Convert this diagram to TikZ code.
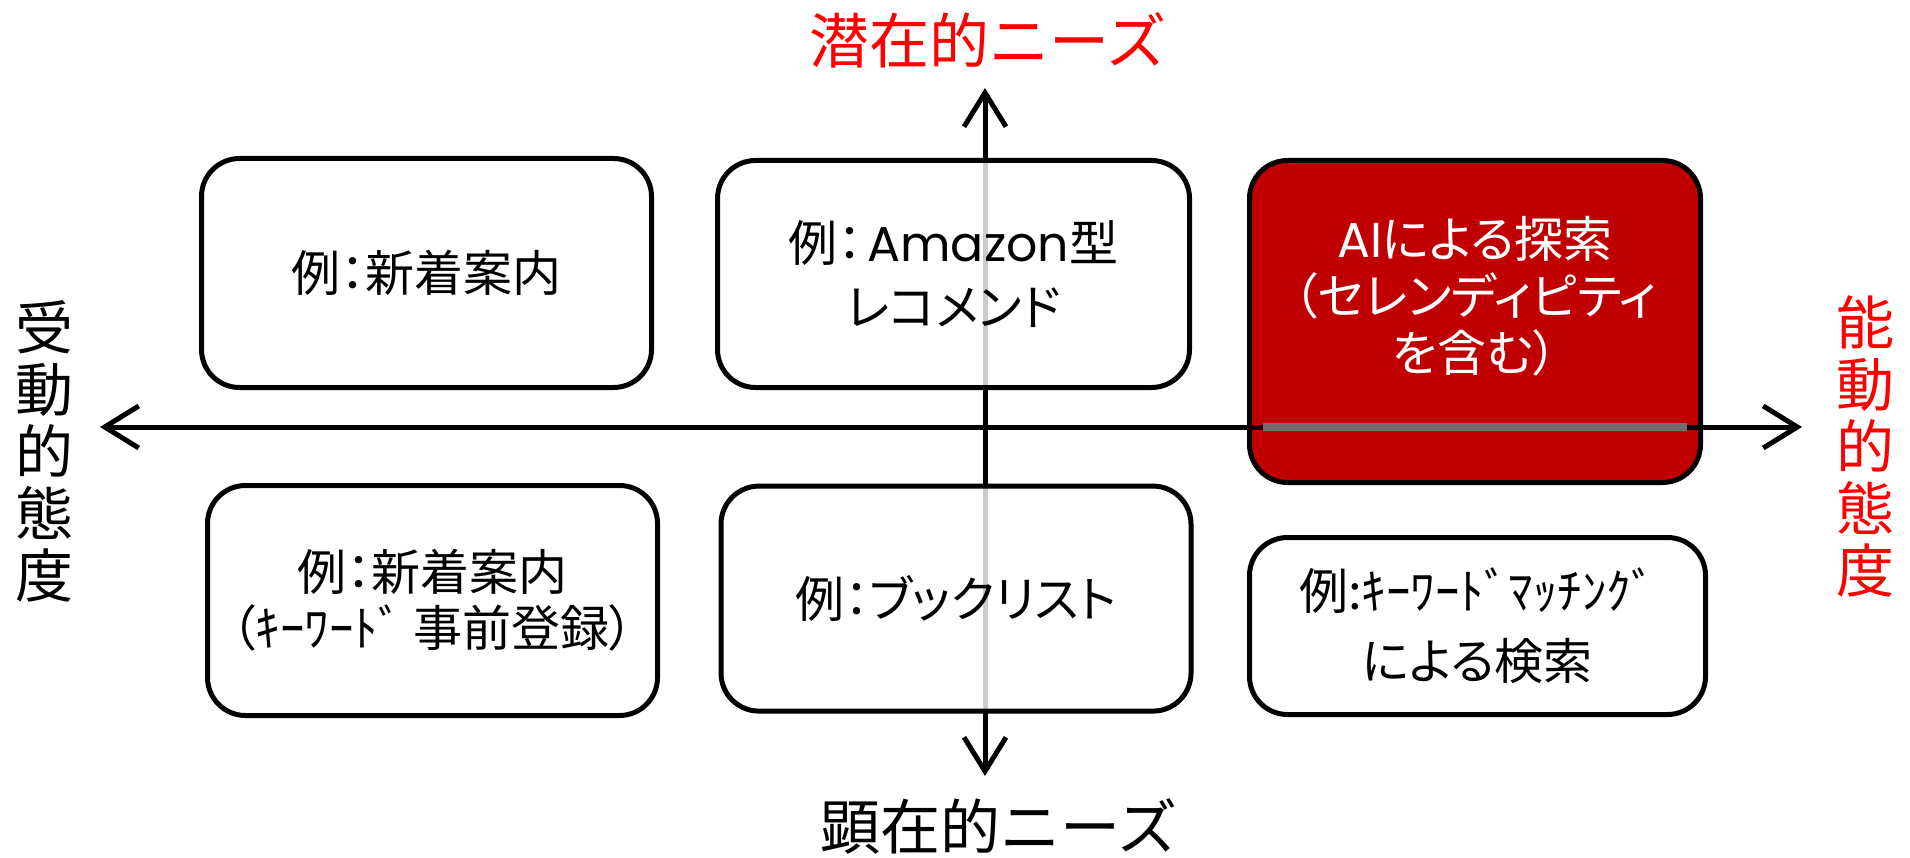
\documentclass[tikz,border=0pt]{standalone}
\usepackage{fontspec}
\usetikzlibrary{arrows.meta}
\newfontfamily\jp{Noto Sans CJK JP}
\newfontfamily\jpp{Noto Sans CJK JP}[RawFeature=+palt]
\newfontfamily\lat{Poppins}
\definecolor{aired}{HTML}{C00000}
\definecolor{barGray}{HTML}{6D6D6D}
\begin{document}
\begin{tikzpicture}[x=1pt,y=-1pt,
  axis/.style={line width=5pt, line cap=round,
    {Straight Barb[length=34pt,width=42pt]}-{Straight Barb[length=34pt,width=42pt]}},
  qbox/.style={draw=black, line width=5pt, rounded corners=38pt, fill=white,
    fill opacity=0.8, draw opacity=1, text opacity=1, inner sep=0pt, align=center},
  boxfont/.style={font=\jpp\fontsize{49}{#1}\selectfont},
  axlabel/.style={font=\jp\fontsize{60}{60}\selectfont},
  sidelabel/.style={align=center, font=\jp\fontsize{58}{62}\selectfont}
]
\fill[white] (0,0) rectangle (1910,858);
\useasboundingbox (0,0) rectangle (1910,858);

% axis end points
\coordinate (top) at (985,88);
\coordinate (bot) at (985,776);
\coordinate (lft) at (100,427);
\coordinate (rgt) at (1802,427);

% vertical axis (under the boxes)
\draw[axis] (bot) -- (top);

% AI box
\node[qbox, fill=aired, fill opacity=1, minimum width=451pt, minimum height=322pt] (tr) at (1475,321.5) {};

% horizontal axis
\draw[axis] (lft) -- (rgt);
\fill[barGray] (1263,422.5) rectangle (1687,431);

\node[boxfont=57, text=white, align=center] (trtext) at ([yshift=25pt]tr.center)
  {{\lat AI}による探索\\（セレンディピティ\\を含む）};

% white boxes
\node[qbox, boxfont=62, minimum width=450pt, minimum height=229pt] (tl) at (426.5,273) {例：新着案内};
\node[qbox, boxfont=64, minimum width=472pt, minimum height=227pt] (tm) at (953.5,274) {例：\hspace{5pt}{\lat Amazon}型\\レコメンド};
\node[qbox, boxfont=56, minimum width=450pt, minimum height=230pt] (bl) at (432.5,600.5) {例：新着案内\\（ｷｰﾜｰﾄﾞ 事前登録）};
\node[qbox, boxfont=62, minimum width=470pt, minimum height=225pt] (bm) at (956,598.6) {例：ブックリスト};
\node[qbox, boxfont=70, minimum width=456pt, minimum height=177pt] (br) at (1477.5,626) {例:ｷｰﾜｰﾄﾞﾏｯﾁﾝｸﾞ\\による検索};

% axis labels
\node[axlabel, text=red] (latent) at (988,40) {潜在的ニーズ};
\node[axlabel] (manifest) at (999,826) {顕在的ニーズ};
\node[sidelabel] (passive) at (44,451) {受\\動\\的\\態\\度};
\node[sidelabel, text=red] (active) at (1865,446) {能\\動\\的\\態\\度};
\end{tikzpicture}
\end{document}
